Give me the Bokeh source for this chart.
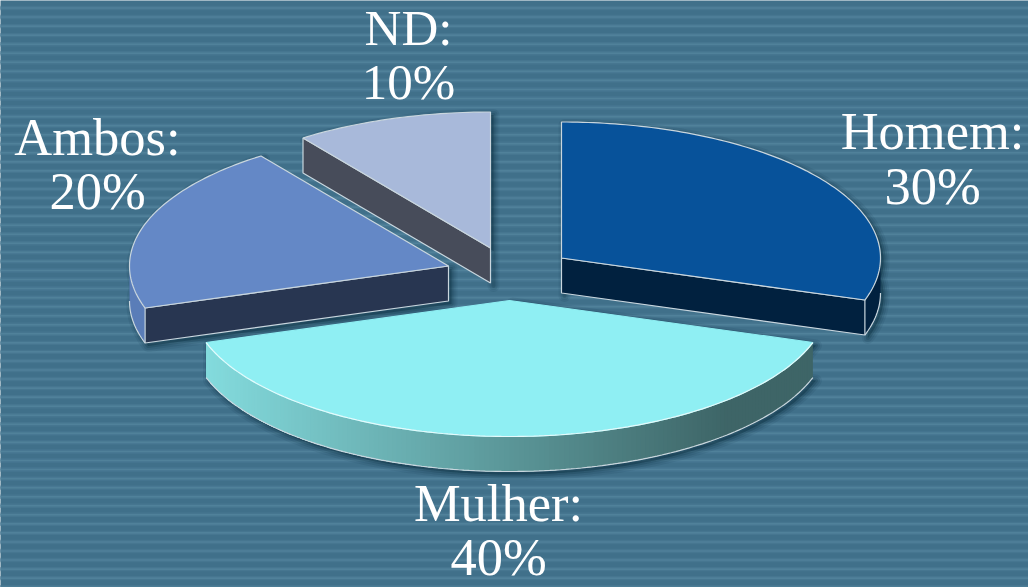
import numpy as np
from bokeh.core.properties import value
from bokeh.embed import file_html
from bokeh.plotting import figure
from bokeh.resources import INLINE

W, H = 1028, 587

# Survey shares
names = ["Homem", "Mulher", "Ambos", "ND"]
shares = [30, 40, 20, 10]

# Exploded slice apex positions and colours
apex = {"Homem": (561, 257.5), "Mulher": (509, 300), "Ambos": (448, 265.5), "ND": (490, 247.5)}
top_col = {"Homem": "#07529A", "Mulher": "#8FEFF3", "Ambos": "#6488C6", "ND": "#A8B9DA"}
side_col = {"Homem": "#01213F", "Ambos": "#283651", "ND": "#474C5A"}
rim_col = {"Homem": "#01213F", "Ambos": "#5A7DB8", "ND": "#474C5A"}
label_pos = {"Homem": (932, 130, 185), "Mulher": (498, 502, 556),
             "Ambos": (97, 136, 190), "ND": (408, 27, 81)}
label_size = {"Homem": "52.5px", "Mulher": "52.5px", "Ambos": "52.5px", "ND": "51px"}

RX, RY, DEPTH = 319, 136, 35
EDGE = "#C9D6DE"

p = figure(width=W, height=H, x_range=(0, W), y_range=(H, 0), output_backend="svg",
           toolbar_location=None, min_border=0, background_fill_color="#40708A",
           border_fill_color="#40708A", outline_line_color=None)
p.axis.visible = False
p.grid.visible = False

# Horizontal banding of the backdrop
bands = np.arange(7.5, H + 9, 9.05)
p.quad(left=-5, right=W + 5, top=bands - 2.2, bottom=bands + 2.2, color="#467690", line_color=None)
p.quad(left=-5, right=W + 5, top=bands - 0.8, bottom=bands + 0.8, color="#50819A", line_color=None)


def point(c, theta, drop=0.0):
    """Project an angle (clockwise from 12 o'clock) onto the tilted disc."""
    return (c[0] + RX * np.sin(theta), c[1] - RY * np.cos(theta) + drop)


def arc(c, a0, a1, drop=0.0):
    t = np.linspace(a0, a1, max(2, int(abs(a1 - a0) * 60)))
    return point(c, t, drop)


# Slice sweeps from the shares
edges = np.cumsum([0] + shares) / sum(shares) * 2 * np.pi
sweep = {n: (edges[i], edges[i + 1]) for i, n in enumerate(names)}

# Draw back to front so nearer slices overlap farther ones
for n in ["ND", "Ambos", "Homem", "Mulher"]:
    c = apex[n]
    a0, a1 = sweep[n]
    ax, ay = arc(c, a0, a1)
    bx, by = arc(c, a0, a1, DEPTH)

    # soft drop shadow around the slice silhouette
    sx = np.r_[c[0], ax, bx[::-1] if n != "ND" else [], c[0]]
    sy = np.r_[c[1], ay, by[::-1] if n != "ND" else [], c[1] + DEPTH]
    for lw, alpha, off in [(12, 0.09, 3), (8, 0.13, 3), (4, 0.20, 3)]:
        p.patch(sx + off, sy + off, fill_color="#0B2C3E", fill_alpha=alpha,
                line_color="#0B2C3E", line_alpha=alpha, line_width=lw, line_join="round")

    # rim of the outer curve, only where it faces the viewer
    lo, hi = max(a0, np.pi / 2), min(a1, 3 * np.pi / 2)
    if hi > lo:
        if n == "Mulher":
            # shaded rim: dark on the right, light on the left; each step is painted
            # from its own angle to the far end so no seams appear between steps
            ts = np.linspace(lo, hi, 161)
            for t in ts[:-1]:
                tail = ts[ts >= t]
                x0, y0 = point(c, tail)
                f = np.clip((730 - x0[0]) / (730 - 205), 0, 1)
                light, dark = np.array([0x84, 0xDC, 0xDE]), np.array([0x3E, 0x65, 0x67])
                rgb = dark + (light - dark) * f
                col = "#%02x%02x%02x" % tuple(int(v) for v in rgb)
                p.patch(np.r_[x0, x0[::-1]], np.r_[y0, y0[::-1] + DEPTH],
                        fill_color=col, line_color=None)
        else:
            rx, ry = arc(c, lo, hi)
            qx, qy = arc(c, lo, hi, DEPTH)
            p.patch(np.r_[rx, qx[::-1]], np.r_[ry, qy[::-1]], fill_color=rim_col[n],
                    line_color=None)
        qx, qy = arc(c, lo, hi, DEPTH)
        p.line(qx, qy, line_color=EDGE, line_width=1.2)

    # visible radial wall
    wall = {"Homem": a1, "Ambos": a0, "ND": a0}.get(n)
    if wall is not None:
        ex, ey = point(c, wall)
        p.patch([c[0], ex, ex, c[0]], [c[1], ey, ey + DEPTH, c[1] + DEPTH],
                fill_color=side_col[n], line_color=EDGE, line_width=1.2)

    # top face
    p.patch(np.r_[c[0], ax], np.r_[c[1], ay], fill_color=top_col[n],
            line_color=top_col[n] if n == "Mulher" else EDGE, line_width=1.2)
    if n == "Mulher":
        p.line(ax, ay, line_color="#E4FAFB", line_width=1.2)

# Two-line labels: name and share
for n, v in zip(names, shares):
    x, y1, y2 = label_pos[n]
    p.text([x, x], [y1, y2], text=[f"{n}:", f"{v}%"], text_align="center",
           text_baseline="alphabetic", text_color="#FFFFFF",
           text_font=value("Liberation Serif"), text_font_size=label_size[n])

open("out.html", "w").write(file_html(p, INLINE))
